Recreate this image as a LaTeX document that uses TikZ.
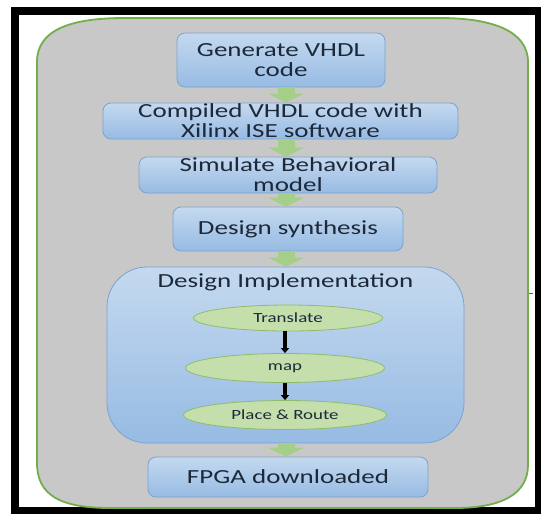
\documentclass[tikz,border=0pt]{standalone}
\usepackage{fontspec}
\setmainfont{Carlito}[FakeStretch=1.35]
\usepackage{xcolor}
\usetikzlibrary{calc, positioning, arrows.meta, shapes.geometric}

\definecolor{framegreen}{HTML}{72AE4C}
\definecolor{panelgray}{HTML}{C8C8C8}
\definecolor{boxtop}{HTML}{C4D9EF}
\definecolor{boxbot}{HTML}{97BBE3}
\definecolor{boxline}{HTML}{7BA2D0}
\definecolor{ovalfill}{HTML}{C4DEAC}
\definecolor{ovalline}{HTML}{8DBD6B}
\definecolor{arrowfill}{HTML}{A5CF88}
\definecolor{inktext}{HTML}{1D2939}

\tikzset{
  stepbox/.style={rectangle, rounded corners=8pt, draw=boxline, line width=0.8pt,
    top color=boxtop, bottom color=boxbot, text=inktext, align=center,
    inner sep=0pt, font=\fontsize{20}{20}\selectfont},
  stepoval/.style={ellipse, draw=ovalline, line width=0.8pt, fill=ovalfill,
    text=inktext, inner sep=0pt, font=\fontsize{14}{14}\selectfont},
  flowarrow/.style={arrowfill, line width=17pt, -{Triangle[length=9pt,width=36pt]}},
  subarrow/.style={black, line width=3.5pt, -{Triangle[length=5pt,width=8pt]}}
}

\begin{document}
\begin{tikzpicture}
              [x=1pt, y=-1pt]
              \useasboundingbox (0,0) rectangle (541,514);
              % frame %
              \fill[white] (0,0) rectangle (541,514);
              \fill[black] (11,7) rectangle (541,514);
              \fill[white] (19,15) rectangle (535,507);
              \filldraw[fill=panelgray, draw=framegreen, line width=1.8pt]
                (37,62) .. controls (37,30) and (70,18) .. (125,18) -- (440,18)
                .. controls (490,18) and (528,30) .. (528,62) -- (528,465)
                .. controls (528,495) and (500,508) .. (455,508) -- (110,508)
                .. controls (60,508) and (37,495) .. (37,463) -- cycle;
              \draw[blue!70, line width=1pt] (529,293) -- (533,293);

              % nodes %
              \coordinate (ax) at (286,0);
              \node[stepbox, minimum width=208pt, minimum height=54pt] (gen) at (281,60) {Generate VHDL\\code};
              \node[stepbox, minimum width=355pt, minimum height=36pt] (comp) at (280.5,121) {Compiled VHDL code with\\Xilinx ISE software};
              \node[stepbox, minimum width=298pt, minimum height=36pt] (sim) at (288,175) {Simulate Behavioral\\model};
              \node[stepbox, minimum width=230pt, minimum height=44pt] (syn) at (288,229) {Design synthesis};
              \node[stepbox, rounded corners=40pt, minimum width=357pt, minimum height=176pt] (impl) at (285.5,355) {};
              \node[text=inktext, font=\fontsize{20}{20}\selectfont, anchor=north] (impltitle) at ($(impl.north)+(0,3)$) {Design Implementation};
              \node[stepoval, minimum width=189pt, minimum height=26pt] (trans) at (288,318) {Translate};
              \node[stepoval, minimum width=199pt, minimum height=29pt] (map) at (285,368) {map};
              \node[stepoval, minimum width=203pt, minimum height=29pt] (par) at (285,415) {Place \& Route};
              \node[stepbox, minimum width=280pt, minimum height=40pt] (fpga) at (288,477) {FPGA downloaded};

              % edges %
              \draw[flowarrow] (gen.south -| ax) -- (comp.north -| ax);
              \draw[flowarrow] (comp.south -| ax) -- (sim.north -| ax);
              \draw[flowarrow] (sim.south -| ax) -- (syn.north -| ax);
              \draw[flowarrow] (syn.south -| ax) -- (impl.north -| ax);
              \draw[flowarrow] (impl.south -| ax) -- (fpga.north -| ax);
              \draw[subarrow] (trans.south -| map) -- (map.north);
              \draw[subarrow] (map.south) -- (par.north);
            \end{tikzpicture}
\end{document}
